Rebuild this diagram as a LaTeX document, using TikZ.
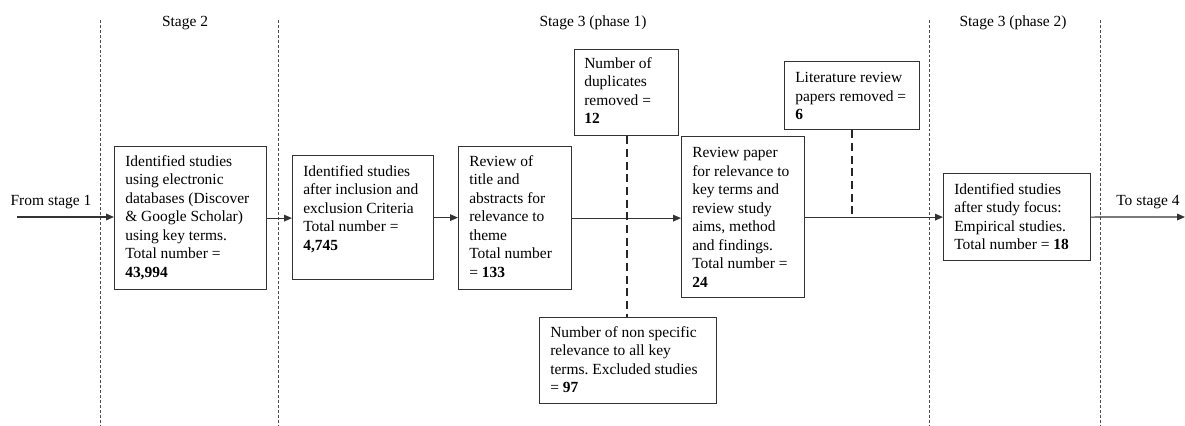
\documentclass[tikz,border=0pt]{standalone}
\usepackage{fontspec}
\setmainfont{Liberation Serif}
\usetikzlibrary{arrows.meta}
\frenchspacing
\begin{document}
\begin{tikzpicture}[x=0.75pt,y=-0.75pt,
  frame/.style 2 args={draw=black!80, line width=0.9pt, anchor=north west, inner sep=0pt,
    minimum width=#1*0.75pt, minimum height=#2*0.75pt},
  txt/.style={anchor=north west, inner sep=0pt, align=left, font=\fontsize{11.6}{13.9}\selectfont},
  lbl/.style={inner sep=0pt, font=\fontsize{11.6}{13.9}\selectfont},
  flow/.style={draw=black!80, line width=0.9pt, -{Triangle[length=6pt,width=5pt]}},
  excl/.style={draw=black!85, line width=1.6pt, dash pattern=on 6pt off 3.5pt},
  divider/.style={draw=black!70, line width=0.6pt, dash pattern=on 2.2pt off 1.5pt}]

\useasboundingbox (0,0) rectangle (1185,425);

% stage dividers
\draw[divider] (100,20) -- (100,425);
\draw[divider] (278,20) -- (278,425);
\draw[divider] (929,20) -- (929,425);
\draw[divider] (1100,20) -- (1100,425);

% stage headings
\node[lbl] (h2) at (185,23) {Stage 2};
\node[lbl] (h31) at (593,23) {Stage 3 (phase 1)};
\node[lbl] (h32) at (1013,23) {Stage 3 (phase 2)};

% boxes
\node[frame={152}{143}] (b1) at (114,146) {};
\node[txt] (t1) at (125,155) {Identified studies\\using electronic\\databases (Discover\\\& Google Scholar)\\using key terms.\\Total number =\\\textbf{43,994}};

\node[frame={141}{124}] (b2) at (292,155) {};
\node[txt] (t2) at (303,165) {Identified studies\\after inclusion and\\exclusion Criteria\\Total number =\\\textbf{4,745}};

\node[frame={113}{143}] (b3) at (458,146) {};
\node[txt] (t3) at (469,155) {Review of\\title and\\abstracts for\\relevance to\\theme\\Total number\\= \textbf{133}};

\node[frame={104}{86}] (dup) at (574,49) {};
\node[txt] (tdup) at (584,57) {Number of\\duplicates\\removed =\\\textbf{12}};

\node[frame={177}{86}] (ns) at (539,317) {};
\node[txt] (tns) at (550,326) {Number of non specific\\relevance to all key\\terms. Excluded studies\\= \textbf{97}};

\node[frame={123}{161}] (rev) at (681,136) {};
\node[txt] (trev) at (692,147) {Review paper\\for relevance to\\key terms and\\review study\\aims, method\\and findings.\\Total number =\\\textbf{24}};

\node[frame={135}{68}] (lit) at (784,61) {};
\node[txt] (tlit) at (795,72) {Literature review\\papers removed =\\\textbf{6}};

\node[frame={147}{87}] (fin) at (943,173) {};
\node[txt] (tfin) at (954,183) {Identified studies\\after study focus:\\Empirical studies.\\Total number = \textbf{18}};

% entry and exit
\coordinate (in) at (17,217);
\coordinate (out) at (1185,217);
\node[lbl] (lin) at (51,202) {From stage 1};
\node[lbl] (lout) at (1148,202) {To stage 4};

% main flow
\draw[flow] (in) -- (in -| b1.west);
\draw[flow] (b1.east) -- (b1.east -| b2.west);
\draw[flow] (b2.east) -- (b2.east -| b3.west);
\draw[flow] (b3.east) -- (b3.east -| rev.west);
\draw[flow] (rev.east) -- (rev.east -| fin.west);
\draw[flow] (fin.east) -- (out);

% exclusions
\draw[excl] (dup.south) -- (dup.south |- ns.north);
\draw[excl] (lit.south) -- (lit.south |- rev.east);
\end{tikzpicture}
\end{document}
